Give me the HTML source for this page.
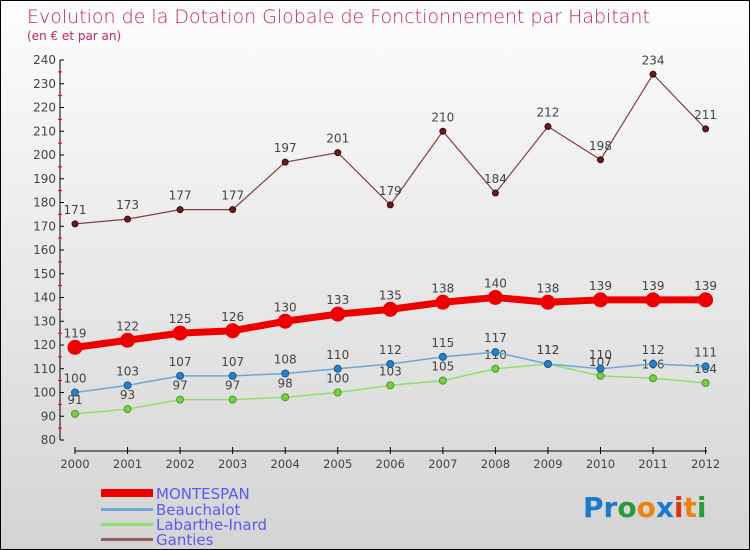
<!DOCTYPE html>
<html><head><meta charset="utf-8"><style>
body{margin:0;}
#wrap{width:750px;height:550px;position:relative;box-sizing:border-box;border:1px solid #000;background:linear-gradient(#fdfdfd,#d4d4d4);font-family:"DejaVu Sans","Liberation Sans",sans-serif;overflow:hidden}
svg text{font-family:"DejaVu Sans","Liberation Sans",sans-serif}
</style></head><body>
<div id="wrap">
<svg id="svg" width="748" height="548">
<text x="26" y="22" font-size="19" fill="#c0285a" font-weight="200">Evolution de la Dotation Globale de Fonctionnement par Habitant</text>
<text x="26" y="39" font-size="12" fill="#c0285a">(en € et par an)</text>
<g id="axes"></g><g id="series"></g>
<g>
<rect x="100" y="488" width="52" height="8" fill="#e00"/>
<text x="155" y="498" font-size="15" fill="#5a5af0">MONTESPAN</text>
<rect x="100" y="507" width="52" height="3" fill="#6aa8d8"/>
<text x="155" y="514" font-size="15" fill="#5a5af0">Beauchalot</text>
<rect x="100" y="522" width="52" height="3" fill="#8de070"/>
<text x="155" y="529" font-size="15" fill="#5a5af0">Labarthe-Inard</text>
<rect x="100" y="537" width="52" height="3" fill="#906060"/>
<text x="155" y="544" font-size="15" fill="#5a5af0">Ganties</text>
</g>
<g font-size="28" font-weight="bold">
<text x="582" y="516"><tspan fill="#1a7ad0">Pr</tspan><tspan fill="#2a9a3a">o</tspan><tspan fill="#f08010">o</tspan><tspan fill="#1a7ad0">x</tspan><tspan fill="#e03010">i</tspan><tspan fill="#f08010">t</tspan><tspan fill="#2a9a3a">i</tspan></text>
</g>
</svg></div>
<script>
const years=[2000,2001,2002,2003,2004,2005,2006,2007,2008,2009,2010,2011,2012];
const montespan=[119,122,125,126,130,133,135,138,140,138,139,139,139];
const beauchalot=[100,103,107,107,108,110,112,115,117,112,110,112,111];
const labarthe=[91,93,97,97,98,100,103,105,110,112,107,106,104];
const ganties=[171,173,177,177,197,201,179,210,184,212,198,234,211];
const yTicks=[80,90,100,110,120,130,140,150,160,170,180,190,200,210,220,230,240];
const NS="http://www.w3.org/2000/svg";
const X=i=>74+i*52.55, Y=v=>439-(v-80)*2.375;
function mk(t,a,p){const e=document.createElementNS(NS,t);for(const k in a)e.setAttribute(k,a[k]);p.appendChild(e);return e;}
const ax=document.getElementById('axes'), se=document.getElementById('series');
let yl=mk('line',{x1:59,y1:Y(240),x2:59,y2:Y(80),stroke:'#000'},ax);

yTicks.forEach(v=>{mk('line',{x1:59,y1:Y(v),x2:63,y2:Y(v),stroke:'#000'},ax);
 if(v<240)mk('line',{x1:57,y1:Y(v+5),x2:61,y2:Y(v+5),stroke:'#e00'},ax);
 const t=mk('text',{x:55,y:Y(v)+4,'font-size':12,fill:'#444','text-anchor':'end'},ax);t.textContent=v;
 });
let xl=mk('line',{x1:74,y1:450,x2:706,y2:450,stroke:'#000'},ax);

years.forEach((y,i)=>{mk('line',{x1:X(i),y1:446,x2:X(i),y2:453,stroke:'#000'},ax);
 const t=mk('text',{x:X(i),y:467,'font-size':11.5,fill:'#444','text-anchor':'middle'},ax);t.textContent=y;
 });
function draw(name,data,col,w,r,dot,stroke){
 const g=mk('g',{},se);
 mk('polyline',{points:data.map((v,i)=>X(i)+','+Y(v)).join(' '),fill:'none',stroke:col,'stroke-width':w},g);
 data.forEach((v,i)=>{const c=mk('circle',{cx:X(i),cy:Y(v),r:r,fill:dot,stroke:stroke,'stroke-width':1},g);
  
  const t=mk('text',{x:X(i),y:Y(v)-10,'font-size':12,fill:'#444','text-anchor':'middle'},g);t.textContent=v;
  });
}
draw('labarthe',labarthe,'#8de070',1.5,3.5,'#7cd040','#4a9a2a');
draw('beauchalot',beauchalot,'#6aa8d8',1.5,3.5,'#2a80c8','#1a5a90');
draw('ganties',ganties,'#804040',1.2,3,'#6a1a1a','#3a0a0a');
draw('montespan',montespan,'#e00',7,7,'#e00','#e00');
</script>
</body></html>
